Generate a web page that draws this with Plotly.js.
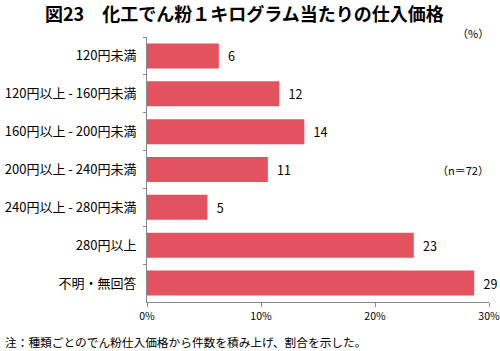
<!DOCTYPE html>
<html><head><meta charset="utf-8">
<script src="https://cdn.plot.ly/plotly-3.0.1.min.js"></script>
<style>body{margin:0;padding:0;background:#fff}#chart{width:500px;height:351px}</style>
</head><body><div id="chart"></div>
<script>
const categories = ["120円未満","120円以上 - 160円未満","160円以上 - 200円未満","200円以上 - 240円未満","240円以上 - 280円未満","280円以上","不明・無回答"];
const values = [6.3, 11.6, 13.8, 10.6, 5.3, 23.4, 28.7];
const valueLabels = ["6","12","14","11","5","23","29"];
const tickVals = [0, 10, 20, 30];
const tickText = ["0%","10%","20%","30%"];

const font = "Noto Sans CJK JP, sans-serif";
const W = 500 - 147 - 11, H = 351 - 37 - 49;
const px = x => (x - 147) / W, py = y => 1 - (y - 37) / H;
const ann = [
  {text: "<b>図23　化工でん粉１キログラム当たりの仕入価格</b>", x: px(244), y: py(13), xanchor: "center", yanchor: "middle", size: 18},
  {text: "（%）", x: px(491), y: py(33), xanchor: "right", yanchor: "middle", size: 11},
  {text: "（n＝72）", x: px(491), y: py(170), xanchor: "right", yanchor: "middle", size: 11},
  {text: "注：種類ごとのでん粉仕入価格から件数を積み上げ、割合を示した。", x: px(3), y: py(341), xanchor: "left", yanchor: "middle", size: 11.7}
].map(a => ({text: a.text, xref: "paper", yref: "paper", x: a.x, y: a.y, xanchor: a.xanchor, yanchor: a.yanchor,
  showarrow: false, font: {family: font, size: a.size, color: "#000"}}));

Plotly.newPlot("chart", [{
  type: "bar", orientation: "h",
  y: categories, x: values,
  text: valueLabels.map(v => "\u2002" + v), textposition: "outside", cliponaxis: false,
  textfont: {family: font, size: 12.5, color: "#000"},
  marker: {color: "#e2535f"},
  hoverinfo: "none"
}], {
  width: 500, height: 351,
  margin: {l: 147, r: 11, t: 37, b: 49},
  paper_bgcolor: "#fff", plot_bgcolor: "#fff",
  bargap: 0.34,
  showlegend: false,
  font: {family: font, size: 11, color: "#000"},
  xaxis: {range: [0, 30], tickvals: tickVals, ticktext: tickText, showgrid: false, zeroline: false,
    showline: true, linecolor: "#888", linewidth: 1, ticks: "outside", ticklen: 4, tickcolor: "#888",
    tickfont: {family: font, size: 10.5, color: "#000"}, fixedrange: true},
  yaxis: {autorange: "reversed", showgrid: false, zeroline: false, showline: true, linecolor: "#888", linewidth: 1,
    ticks: "outside", tickson: "boundaries", ticklen: 3, tickcolor: "#888", ticklabelstandoff: 7,
    tickfont: {family: font, size: 13, color: "#000"}, fixedrange: true},
  annotations: ann
}, {displayModeBar: false, staticPlot: true});
</script></body></html>
